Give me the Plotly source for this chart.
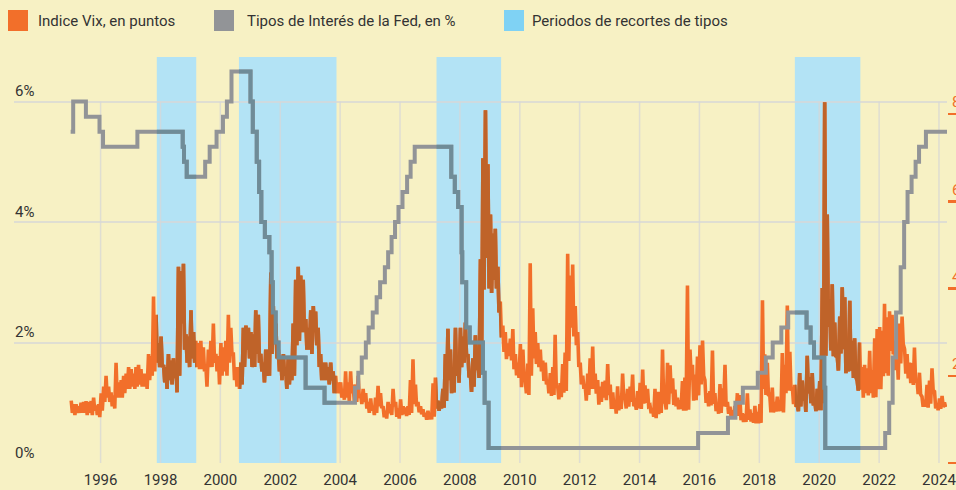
import pandas as pd
import plotly.graph_objects as go

# ---------------- data ----------------
fed_dates = [
    "1995-01-01", "1995-02-01", "1995-07-06", "1995-12-19", "1996-01-31", "1997-03-25",
    "1998-09-29", "1998-10-15", "1998-11-17", "1999-06-30", "1999-08-24", "1999-11-16",
    "2000-02-02", "2000-03-21", "2000-05-16", "2001-01-03", "2001-01-31", "2001-03-20",
    "2001-04-18", "2001-05-15", "2001-06-27", "2001-08-21", "2001-09-17", "2001-10-02",
    "2001-11-06", "2001-12-11", "2002-11-06", "2003-06-25", "2004-06-30", "2004-08-10",
    "2004-09-21", "2004-11-10", "2004-12-14", "2005-02-02", "2005-03-22", "2005-05-03",
    "2005-06-30", "2005-08-09", "2005-09-20", "2005-11-01", "2005-12-13", "2006-01-31",
    "2006-03-28", "2006-05-10", "2006-06-29", "2007-09-18", "2007-10-31", "2007-12-11",
    "2008-01-22", "2008-01-30", "2008-03-18", "2008-04-30", "2008-10-08", "2008-10-29",
    "2008-12-16", "2015-12-16", "2016-12-14", "2017-03-15", "2017-06-14", "2017-12-13",
    "2018-03-21", "2018-06-13", "2018-09-26", "2018-12-19", "2019-07-31", "2019-09-18",
    "2019-10-30", "2020-03-03", "2020-03-15", "2022-03-16", "2022-05-04", "2022-06-15",
    "2022-07-27", "2022-09-21", "2022-11-02", "2022-12-14", "2023-02-01", "2023-03-22",
    "2023-05-03", "2023-07-26", "2024-04-08",
]
fed_rates = [
    5.5, 6.0, 5.75, 5.5, 5.25, 5.5,
    5.25, 5.0, 4.75, 5.0, 5.25, 5.5,
    5.75, 6.0, 6.5, 6.0, 5.5, 5.0,
    4.5, 4.0, 3.75, 3.5, 3.0, 2.5,
    2.0, 1.75, 1.25, 1.0, 1.25, 1.5,
    1.75, 2.0, 2.25, 2.5, 2.75, 3.0,
    3.25, 3.5, 3.75, 4.0, 4.25, 4.5,
    4.75, 5.0, 5.25, 4.75, 4.5, 4.25,
    3.5, 3.0, 2.25, 2.0, 1.5, 1.0,
    0.25, 0.5, 0.75, 1.0, 1.25, 1.5,
    1.75, 2.0, 2.25, 2.5, 2.25, 2.0,
    1.75, 1.25, 0.25, 0.5, 1.0, 1.75,
    2.5, 3.25, 4.0, 4.5, 4.75, 5.0,
    5.25, 5.5, 5.5,
]

vix_first_month = "1995-01-01"
# monthly high / low of the VIX index (points)
vix_high = [
    14.3, 13.5, 13.5, 13.0, 13.8, 14.0, 14.2, 14.0, 14.2, 15.0, 13.2, 13.5,
    16.0, 17.5, 20.0, 17.5, 16.2, 15.5, 23.0, 18.5, 19.0, 20.0, 20.5, 22.0,
    21.5, 20.5, 22.0, 22.5, 21.5, 20.5, 20.5, 25.0, 24.5, 38.2, 34.0, 27.5,
    29.0, 22.5, 22.0, 25.0, 23.5, 24.0, 22.5, 45.0, 44.0, 45.7, 29.5, 29.0,
    35.0, 30.0, 28.0, 27.5, 28.0, 26.5, 22.5, 26.0, 28.0, 32.0, 25.0, 24.5,
    27.5, 26.5, 28.0, 34.0, 31.0, 25.0, 22.0, 22.0, 23.0, 31.0, 31.5, 31.0,
    30.0, 29.5, 35.0, 34.0, 25.0, 23.0, 26.0, 26.0, 43.7, 36.0, 32.0, 26.0,
    24.0, 25.0, 22.0, 24.0, 24.5, 32.0, 42.0, 45.0, 43.0, 42.0, 33.0, 31.0,
    35.0, 36.0, 34.7, 31.0, 25.0, 23.0, 23.0, 22.0, 23.0, 21.0, 20.0, 18.5,
    18.5, 17.0, 21.0, 18.5, 21.0, 18.0, 18.0, 20.0, 15.5, 17.0, 16.0, 14.0,
    14.8, 12.8, 15.0, 17.7, 16.0, 13.0, 12.0, 14.0, 13.5, 17.0, 14.0, 12.5,
    14.6, 13.0, 12.7, 13.0, 19.0, 23.8, 18.0, 14.0, 13.0, 12.3, 11.5, 12.0,
    11.5, 18.3, 19.6, 14.3, 14.0, 17.0, 25.0, 30.8, 26.0, 22.0, 31.0, 24.5,
    31.0, 29.0, 32.2, 25.0, 20.5, 24.0, 29.3, 24.0, 46.7, 69.9, 80.9, 68.5,
    57.0, 52.6, 53.7, 45.0, 37.0, 31.5, 30.0, 27.4, 28.5, 30.7, 25.0, 23.0,
    27.3, 26.0, 19.0, 22.8, 45.8, 35.5, 30.0, 27.5, 26.0, 23.5, 23.0, 19.0,
    20.6, 22.0, 29.4, 17.7, 18.3, 22.7, 25.3, 48.0, 43.0, 45.5, 36.0, 30.0,
    23.0, 20.0, 18.0, 20.5, 24.0, 26.7, 20.5, 19.0, 17.5, 18.6, 18.9, 22.7,
    18.0, 16.2, 14.4, 17.6, 14.0, 20.5, 14.8, 17.0, 17.5, 20.3, 13.8, 16.5,
    18.4, 21.4, 17.8, 17.0, 13.2, 12.6, 17.0, 16.3, 16.3, 26.0, 14.0, 23.0,
    22.4, 19.4, 16.8, 15.0, 14.4, 18.8, 19.6, 40.7, 26.0, 22.5, 20.3, 24.4,
    27.0, 28.1, 19.0, 16.0, 16.5, 25.8, 16.0, 13.4, 18.1, 17.1, 22.5, 14.0,
    12.9, 12.1, 13.1, 16.0, 15.6, 11.4, 11.2, 16.0, 12.3, 11.4, 13.1, 11.7,
    13.5, 37.3, 24.9, 23.0, 15.6, 17.3, 14.0, 15.2, 13.9, 25.2, 22.5, 36.1,
    25.5, 17.3, 17.9, 13.4, 20.6, 18.9, 16.1, 24.6, 19.7, 20.6, 14.3, 17.0,
    18.8, 40.1, 82.7, 57.0, 37.6, 41.0, 32.2, 24.5, 33.6, 40.3, 38.0, 25.0,
    37.2, 28.0, 28.6, 18.9, 27.6, 22.0, 22.5, 21.7, 25.7, 21.3, 28.6, 30.7,
    31.2, 30.3, 36.5, 33.4, 34.8, 34.0, 28.0, 25.6, 32.0, 33.6, 26.1, 25.0,
    23.0, 22.9, 26.5, 19.1, 20.7, 15.2, 14.4, 17.9, 18.9, 21.7, 16.4, 13.4,
    14.8, 15.4, 13.9,
]
vix_low = [
    11.5, 11.0, 11.5, 11.5, 11.5, 11.5, 11.0, 11.5, 11.0, 12.0, 11.0, 10.5,
    12.0, 14.0, 15.0, 14.0, 13.0, 12.5, 15.0, 15.0, 15.0, 16.0, 17.0, 17.0,
    17.5, 17.0, 17.5, 18.0, 17.5, 17.5, 17.0, 19.0, 20.0, 21.0, 23.0, 22.0,
    22.0, 18.5, 17.0, 19.0, 18.0, 19.5, 16.2, 20.0, 32.0, 26.0, 23.0, 22.0,
    24.0, 23.0, 22.0, 21.5, 21.5, 21.0, 17.5, 22.0, 22.0, 23.0, 21.0, 18.0,
    20.0, 21.0, 20.0, 23.0, 25.0, 19.0, 17.5, 17.0, 18.0, 22.0, 26.0, 24.0,
    22.0, 22.0, 25.0, 23.0, 21.0, 18.5, 20.0, 20.0, 25.0, 28.0, 24.0, 21.0,
    19.0, 20.0, 17.0, 18.0, 19.0, 20.0, 27.0, 28.0, 30.0, 30.0, 26.0, 26.0,
    25.0, 30.0, 27.0, 22.0, 19.0, 19.0, 19.0, 18.0, 19.0, 16.0, 16.0, 16.0,
    15.0, 14.5, 15.0, 14.0, 16.0, 14.0, 14.0, 15.0, 13.5, 14.0, 12.5, 11.5,
    12.0, 11.0, 11.5, 13.0, 12.6, 10.5, 10.2, 11.4, 11.0, 13.0, 10.6, 10.2,
    11.0, 11.2, 10.8, 11.0, 11.5, 13.5, 13.0, 11.6, 11.2, 10.6, 9.9, 10.0,
    10.0, 10.6, 12.5, 12.0, 12.5, 12.7, 14.2, 19.0, 16.0, 16.2, 20.0, 18.4,
    22.0, 23.0, 24.5, 19.6, 16.3, 17.5, 21.3, 19.5, 21.8, 39.8, 47.0, 40.0,
    39.0, 42.0, 40.0, 34.5, 28.8, 25.5, 23.8, 24.5, 23.5, 21.5, 20.1, 19.5,
    17.4, 19.0, 16.0, 15.6, 20.0, 24.0, 22.7, 22.0, 21.0, 18.8, 18.0, 16.0,
    15.4, 15.6, 17.3, 14.6, 15.1, 16.1, 16.5, 23.4, 31.0, 29.0, 27.0, 22.0,
    18.0, 17.0, 14.3, 15.6, 17.0, 17.0, 15.9, 13.4, 14.0, 15.0, 14.4, 15.6,
    12.4, 12.4, 11.3, 12.1, 12.4, 15.0, 12.5, 12.9, 14.0, 13.0, 12.2, 12.5,
    12.4, 13.6, 13.8, 13.0, 11.4, 10.6, 10.3, 11.2, 11.5, 14.0, 12.3, 13.5,
    16.0, 13.3, 13.0, 12.3, 12.4, 12.0, 12.0, 12.2, 20.0, 14.3, 14.4, 15.5,
    18.0, 20.0, 13.8, 13.0, 13.2, 13.6, 11.9, 11.3, 11.5, 13.0, 12.9, 11.3,
    10.6, 10.6, 10.8, 10.8, 9.8, 9.4, 9.4, 9.9, 9.5, 9.2, 9.1, 9.1,
    9.2, 17.0, 15.6, 15.4, 11.6, 11.6, 11.8, 11.9, 11.9, 11.6, 16.0, 16.6,
    16.6, 13.5, 12.9, 11.9, 13.0, 14.3, 11.7, 16.0, 13.7, 13.2, 11.9, 12.1,
    12.1, 13.7, 24.6, 31.2, 25.8, 24.5, 24.3, 21.2, 25.1, 26.1, 20.6, 21.0,
    21.2, 19.5, 19.8, 16.6, 16.8, 15.0, 16.0, 15.5, 16.0, 15.0, 15.1, 16.9,
    16.9, 19.9, 20.6, 20.0, 25.7, 24.9, 21.3, 19.1, 22.8, 27.3, 20.5, 19.4,
    18.3, 17.9, 18.5, 15.8, 15.7, 12.9, 12.9, 12.7, 13.6, 16.7, 12.5, 12.1,
    12.4, 12.8, 12.8,
]

cut_starts = ["1997-11-17", "2000-08-15", "2007-03-22", "2019-03-10"]
cut_ends = ["1999-03-13", "2003-11-18", "2009-05-18", "2021-05-17"]

year_ticks = list(range(1996, 2025, 2))
pct_ticks = [0, 2, 4, 6]
pct_labels = ["0%", "2%", "4%", "6%"]
vix_ticks = [0, 20, 40, 60, 80]
vix_labels = ["", "20", "40", "60", "80"]

legend_labels = ["Indice Vix, en puntos", "Tipos de Interés de la Fed, en %",
                 "Periodos de recortes de tipos"]

# ---------------- styling ----------------
W, H = 956, 490
ML, MT = 14, 57
PLOT_R, PLOT_B = 947, 463
MR, MB = W - PLOT_R, H - PLOT_B
PW, PH = PLOT_R - ML, PLOT_B - MT
X_RANGE = ["1993-02-09", "2024-04-08"]
PCT_RANGE = [0, 6.74]
VIX_RANGE = [0, 93.1]

BG = "#f7f1c4"
ORANGE = "#f26f2a"
ORANGE_DARK = "#bf6329"
GRAY = "#929497"
GRAY_DARK = "#6f8c98"
BAND = "#b3e3f5"
BLUE_LEG = "#7fd2f4"
GRID = "rgba(215,215,215,0.75)"
TXT = "#333333"
FONT = "Roboto"

assert len(vix_high) == len(vix_low)
assert len(fed_dates) == len(fed_rates)

months = pd.date_range(vix_first_month, periods=len(vix_high), freq="MS")
vix_x, vix_y = [], []
for m, hi, lo in zip(months, vix_high, vix_low):
    vix_x += [m + pd.Timedelta(days=7), m + pd.Timedelta(days=21)]
    vix_y += [hi, lo]

t0 = pd.Timestamp(X_RANGE[0]).value
t1 = pd.Timestamp(X_RANGE[1]).value


def xfrac(d):
    return (pd.Timestamp(d).value - t0) / (t1 - t0)


def px(x):  # pixel -> paper
    return (x - ML) / PW


def py(y):
    return (MT + PH - y) / PH


fig = go.Figure()

# main series: VIX on y (right), Fed on y2 (left, overlaying)
fig.add_trace(go.Scatter(x=vix_x, y=vix_y, mode="lines", xaxis="x", yaxis="y",
                         line=dict(color=ORANGE, width=3.6), showlegend=False,
                         hoverinfo="skip"))
fig.add_trace(go.Scatter(x=fed_dates, y=fed_rates, mode="lines", xaxis="x", yaxis="y2",
                         line=dict(color=GRAY, width=4, shape="hv"), showlegend=False,
                         hoverinfo="skip"))

layout_axes = {}
# darker copies of the lines inside each rate-cut band (clipped by band sub-axes)
for i, (s, e) in enumerate(zip(cut_starts, cut_ends)):
    xa = f"x{i + 2}"
    layout_axes[f"xaxis{i + 2}"] = dict(domain=[xfrac(s), xfrac(e)], range=[s, e],
                                         type="date", visible=False, showgrid=False,
                                         anchor="y3", fixedrange=True, automargin=False)
    fig.add_trace(go.Scatter(x=vix_x, y=vix_y, mode="lines", xaxis=xa, yaxis="y3",
                             line=dict(color=ORANGE_DARK, width=3.6), showlegend=False,
                             hoverinfo="skip"))
    fig.add_trace(go.Scatter(x=fed_dates, y=fed_rates, mode="lines", xaxis=xa, yaxis="y4",
                             line=dict(color=GRAY_DARK, width=4, shape="hv"),
                             showlegend=False, hoverinfo="skip"))

shapes = []
for s, e in zip(cut_starts, cut_ends):
    shapes.append(dict(type="rect", xref="x", yref="paper", x0=s, x1=e, y0=0, y1=1,
                       fillcolor=BAND, line=dict(width=0), layer="below"))
for yr in year_ticks:
    shapes.append(dict(type="line", xref="x", yref="y2", x0=f"{yr}-01-01",
                       x1=f"{yr}-01-01", y0=-0.03, y1=pct_ticks[-1],
                       line=dict(color=GRID, width=1.5), layer="below"))

# custom legend
leg_swatches = [(8, 28, ORANGE, 36), (214, 234, GRAY, 245), (504, 524, BLUE_LEG, 530)]
annotations = []
for (sx0, sx1, col, tx), lab in zip(leg_swatches, legend_labels):
    shapes.append(dict(type="rect", xref="paper", yref="paper", x0=px(sx0), x1=px(sx1),
                       y0=py(31), y1=py(10), fillcolor=col, line=dict(width=0)))
    annotations.append(dict(xref="paper", yref="paper", x=px(tx), y=py(21), text=lab,
                            showarrow=False, xanchor="left", yanchor="middle",
                            font=dict(family=FONT, size=15, color=TXT)))

fig.update_layout(
    template="none",
    width=W, height=H,
    margin=dict(l=ML, r=MR, t=MT, b=MB, pad=0, autoexpand=False),
    paper_bgcolor=BG, plot_bgcolor="rgba(0,0,0,0)",
    font=dict(family=FONT, size=15, color=TXT),
    showlegend=False,
    hovermode=False,
    xaxis=dict(type="date", range=X_RANGE, tickvals=[f"{y}-01-01" for y in year_ticks],
               ticktext=[str(y) for y in year_ticks], showgrid=False, zeroline=False,
               showline=False, ticks="", tickfont=dict(family=FONT, size=15, color=TXT),
               ticklabelstandoff=6, ticklabeloverflow="allow", fixedrange=True,
               automargin=False),
    yaxis=dict(range=VIX_RANGE, side="right", tickvals=vix_ticks,
               ticktext=vix_labels, showgrid=False, zeroline=False,
               showline=False, ticks="outside", ticklen=12, tickwidth=2.5,
               tickcolor=ORANGE, tickfont=dict(family=FONT, size=15, color=ORANGE),
               ticklabelstandoff=-11, ticklabelshift=-12, ticklabeloverflow="allow",
               fixedrange=True, automargin=False),
    yaxis2=dict(range=PCT_RANGE, overlaying="y", side="left", tickvals=pct_ticks,
                ticktext=pct_labels, showgrid=True, gridcolor=GRID, gridwidth=2,
                zeroline=False, showline=False, ticks="",
                ticklabelposition="inside top", ticklabelstandoff=-2,
                ticklabeloverflow="allow",
                tickfont=dict(family=FONT, size=15, color=TXT), fixedrange=True,
                automargin=False),
    yaxis3=dict(range=VIX_RANGE, domain=[0, 1], visible=False, showgrid=False,
                anchor="x2", fixedrange=True, automargin=False),
    yaxis4=dict(range=PCT_RANGE, domain=[0, 1], visible=False, showgrid=False,
                anchor="x2", fixedrange=True, automargin=False),
    shapes=shapes,
    annotations=annotations,
    **layout_axes,
)

# remove the page's default body margin so the 956x490 figure fills the window exactly
fig.write_html(
    "out.html",
    config={"displayModeBar": False, "staticPlot": True},
    post_script="document.body.style.margin='0';document.body.style.overflow='hidden';",
)
